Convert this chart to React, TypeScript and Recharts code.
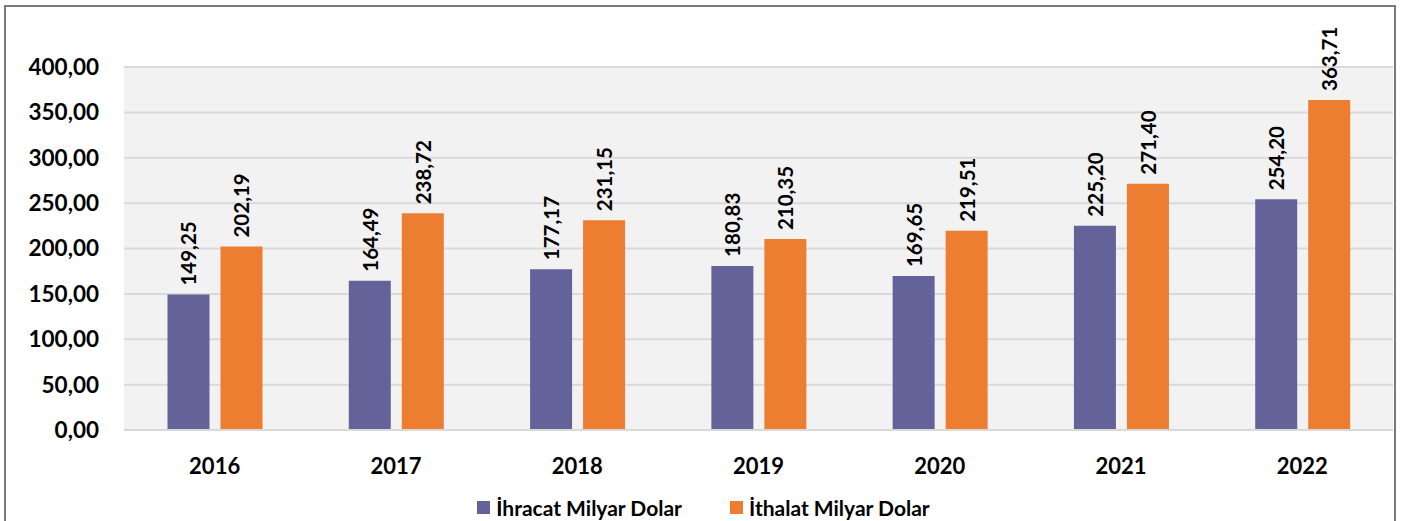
import React from 'react';
import { BarChart, Bar, XAxis, YAxis, CartesianGrid, Legend, LabelList } from 'recharts';

// ─── Data ──────────────────────────────────────────────────────────────────────
const YEARS = ['2016', '2017', '2018', '2019', '2020', '2021', '2022'];
const IHRACAT = [149.25, 164.49, 177.17, 180.83, 169.65, 225.2, 254.2];
const ITHALAT = [202.19, 238.72, 231.15, 210.35, 219.51, 271.4, 363.71];
const Y_TICKS = [0, 50, 100, 150, 200, 250, 300, 350, 400];

const SERIES = [
    { key: 'ihracat', name: 'İhracat Milyar Dolar', color: '#636399' },
    { key: 'ithalat', name: 'İthalat Milyar Dolar', color: '#ED7D31' },
];

const data = YEARS.map((year, i) => ({ year, ihracat: IHRACAT[i], ithalat: ITHALAT[i] }));

const FONT = 'Lato, "Open Sans", sans-serif';
const fmt = (v: number) => v.toFixed(2).replace('.', ',');

// rotated value label above each bar
const VerticalLabel = (props: any) => {
    const { x, y, width, value } = props;
    const cx = x + width / 2;
    const cy = y - 9;
    return (
        <text x={cx} y={cy} transform={`rotate(-90 ${cx} ${cy})`} textAnchor="start" dominantBaseline="central"
            fontFamily={FONT} fontWeight={700} fontSize={20.5} fill="#000">
            {fmt(value)}
        </text>
    );
};

const LegendContent = () => (
    <div style={{ display: 'flex', justifyContent: 'center', gap: 48, fontFamily: FONT, fontWeight: 700, fontSize: 21, color: '#000', paddingLeft: 14 }}>
        {SERIES.map(s => (
            <div key={s.key} style={{ display: 'flex', alignItems: 'center', gap: 6 }}>
                <span style={{ width: 13, height: 13, background: s.color, display: 'inline-block' }} />
                <span>{s.name}</span>
            </div>
        ))}
    </div>
);

export default function App() {
    return (
        <div style={{ position: 'absolute', left: 0, top: 0, width: 1411, height: 521, background: '#fff', overflow: 'hidden' }}>
            <div style={{ position: 'absolute', left: 4, top: 5, width: 1392, height: 540, border: '2px solid #7a7a7a', boxSizing: 'border-box' }} />
            <BarChart width={1411} height={521} data={data} margin={{ top: 67, right: 18, left: 0, bottom: 0 }}
                barCategoryGap="24%" barGap={11}>
                <CartesianGrid vertical={false} stroke="#D9D9D9" strokeWidth={2} fill="#F2F2F2" />
                <XAxis dataKey="year" axisLine={{ stroke: '#D9D9D9', strokeWidth: 2 }} tickLine={false} height={60} tickMargin={22}
                    tick={{ fill: '#000', fontFamily: FONT, fontWeight: 700, fontSize: 22 }} />
                <YAxis width={124} domain={[0, 400]} ticks={Y_TICKS} tickFormatter={fmt} axisLine={false} tickLine={false}
                    tickSize={0} tickMargin={25} tick={{ fill: '#000', fontFamily: FONT, fontWeight: 700, fontSize: 22.5 }} />
                <Legend verticalAlign="bottom" height={31} wrapperStyle={{ bottom: -5 }} content={<LegendContent />} />
                {SERIES.map(s => (
                    <Bar key={s.key} dataKey={s.key} name={s.name} fill={s.color} isAnimationActive={false}>
                        <LabelList dataKey={s.key} content={<VerticalLabel />} />
                    </Bar>
                ))}
            </BarChart>
        </div>
    );
}
